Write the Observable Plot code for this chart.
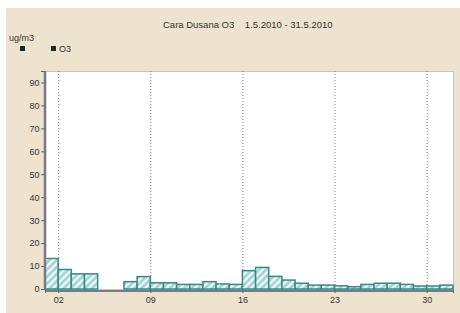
<!DOCTYPE html>
<html>
<head>
<meta charset="utf-8">
<script src="https://cdn.jsdelivr.net/npm/d3@7"></script>
<script src="https://cdn.jsdelivr.net/npm/@observablehq/plot@0.6"></script>
<style>
  html, body { margin: 0; padding: 0; background: #ffffff; }
  #wrap { position: absolute; left: 6px; top: 8px; width: 454px; height: 305px; background: #eee3cf; font-family: "Liberation Sans", Arial, sans-serif; color: #333; }
  #wrap svg { position: absolute; left: 0; top: 0; }
  .t { position: absolute; font-size: 9px; white-space: pre; line-height: 10px; }
  .sq { position: absolute; width: 5px; height: 5px; background: #1e2a2a; }
</style>
</head>
<body>
<div id="wrap">
  <div class="t" style="left:157px; top:12px; font-size:9.5px;">Cara Dusana O3    1.5.2010 - 31.5.2010</div>
  <div class="t" style="left:3px; top:25px;">ug/m3</div>
  <div class="sq" style="left:14px; top:38px;"></div>
  <div class="sq" style="left:45px; top:38px;"></div>
  <div class="t" style="left:53px; top:36px;">O3</div>
</div>
<script>
const title = "Cara Dusana O3    1.5.2010 - 31.5.2010";
const unit = "ug/m3";
const seriesName = "O3";
const days   = [1, 2, 3, 4, 7, 8, 9, 10, 11, 12, 13, 14, 15, 16, 17, 18, 19, 20, 21, 22, 23, 24, 25, 26, 27, 28, 29, 30, 31];
const values = [13.3, 8.5, 6.6, 6.6, 3.2, 5.4, 2.7, 2.7, 2.0, 2.0, 3.2, 2.2, 2.0, 8.0, 9.4, 5.5, 3.9, 2.5, 1.7, 1.7, 1.4, 1.0, 2.0, 2.5, 2.5, 2.0, 1.3, 1.3, 1.7];
const xTickDays = [2, 9, 16, 23, 30];
const yTicks = [0, 10, 20, 30, 40, 50, 60, 70, 80, 90];
const yMax = 95;

const dt = d => new Date(Date.UTC(2010, 4, d));
const data = days.map((d, i) => ({start: dt(d), end: dt(d + 1), v: values[i]}));
const xTicks = xTickDays.map(dt);
const x0 = dt(1), x1 = dt(32);

const chart = Plot.plot({
  width: 454,
  height: 305,
  marginTop: 63,
  marginBottom: 24,
  marginLeft: 39,
  marginRight: 7,
  style: {background: "transparent", fontFamily: "'Liberation Sans', Arial, sans-serif", fontSize: "9px", color: "#333"},
  x: {type: "utc", domain: [x0, x1], label: null},
  y: {domain: [0, yMax], label: null},
  marks: [
    Plot.frame({fill: "white", stroke: "#c4c4c4"}),
    Plot.gridX(xTicks, {stroke: "#8a8a8a", strokeOpacity: 1, strokeDasharray: "1,2"}),
    Plot.rectY(data, {x1: "start", x2: "end", y: "v", fill: "url(#hatch)", stroke: "#3a8889", strokeWidth: 1.5}),
    Plot.ruleX([x0], {stroke: "#7a7a85", strokeWidth: 2.5, dx: -0.5}),
    Plot.ruleY([0], {stroke: "#7a7a85", strokeWidth: 2, dy: 1.5}),
    Plot.axisY([...yTicks, yMax], {tickSize: 4, tickPadding: 2, tickFormat: d => d === yMax ? "" : d, stroke: "#666", fill: "#333"}),
    Plot.axisX([x0, ...xTicks, x1], {tickSize: 4, tickPadding: 3, tickFormat: d => (+d === +x0 || +d === +x1) ? "" : d3.utcFormat("%d")(d), stroke: "#666", fill: "#333"})
  ]
});

const ns = "http://www.w3.org/2000/svg";
const defs = document.createElementNS(ns, "defs");
defs.innerHTML = `<pattern id="hatch" patternUnits="userSpaceOnUse" width="5" height="5" patternTransform="rotate(45)">
  <rect width="5" height="5" fill="#a2d3d4"></rect>
  <line x1="1.5" y1="0" x2="1.5" y2="5" stroke="#ffffff" stroke-width="2"></line>
</pattern>`;
chart.insertBefore(defs, chart.firstChild);
document.getElementById("wrap").appendChild(chart);
</script>
</body>
</html>
